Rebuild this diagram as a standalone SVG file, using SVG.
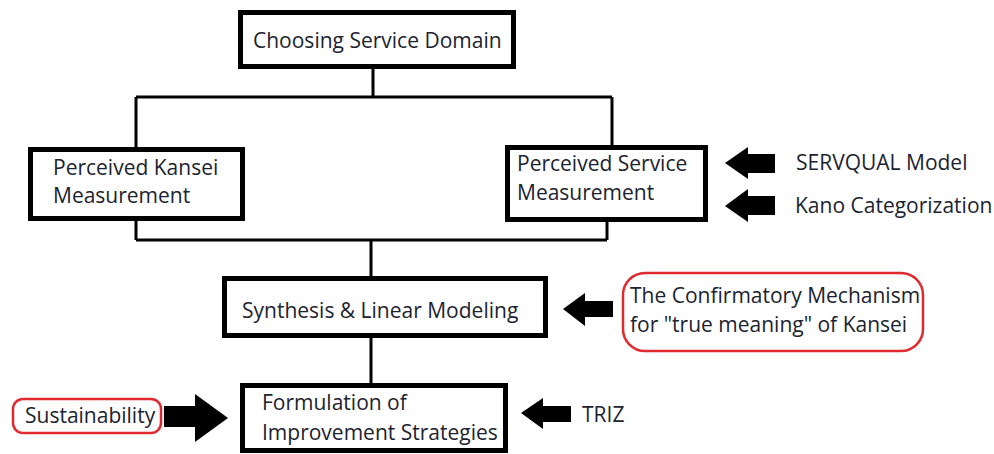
<svg xmlns="http://www.w3.org/2000/svg" width="994" height="454" viewBox="0 0 994 454">
<style>
  .box { fill: #ffffff; stroke: #000000; stroke-width: 5; }
  .red { fill: #ffffff; stroke: #e02a2f; stroke-width: 2.5; }
  .line { fill: none; stroke: #000000; stroke-width: 3; }
  .arrow { fill: #000000; }
  text { font-family: "Open Sans", "Liberation Sans", sans-serif; font-size: 21px; fill: #1c2330; }
</style>
<rect width="994" height="454" fill="#ffffff"/>
<g id="connectors">
  <path class="line" d="M373 69 V97 M136 97 H612 M136 97 V148 M612 97 V146"/>
  <path class="line" d="M136 220 V240 M607 221 V240 M136 240 H607 M371 240 V277"/>
  <path class="line" d="M371 337 V384"/>
  <polygon class="arrow" points="725,163 748,147 748,154 775,154 775,173 748,173 748,179"/>
  <polygon class="arrow" points="725,206 748,189 748,196 775,196 775,215 748,215 748,222"/>
  <polygon class="arrow" points="563,309 585,293 585,301 613,301 613,317 585,317 585,326"/>
  <polygon class="arrow" points="228,418 195,394 195,406 164,406 164,427 195,427 195,442"/>
  <polygon class="arrow" points="521,413 543,398 543,406 571,406 571,422 543,422 543,429"/>
</g>
<g id="choosing">
  <rect class="box" x="240.5" y="12.5" width="273" height="54"/>
  <text x="253" y="48">Choosing Service Domain</text>
</g>
<g id="kansei">
  <rect class="box" x="30.5" y="149.5" width="212" height="69"/>
  <text x="53" y="175">Perceived Kansei</text>
  <text x="53" y="203">Measurement</text>
</g>
<g id="service">
  <rect class="box" x="507.5" y="147.5" width="198" height="72"/>
  <text x="517" y="171">Perceived Service</text>
  <text x="517" y="200">Measurement</text>
</g>
<g id="servqual">
  <text x="796" y="170">SERVQUAL Model</text>
</g>
<g id="kano">
  <text x="795" y="213">Kano Categorization</text>
</g>
<g id="synthesis">
  <rect class="box" x="224.5" y="278.5" width="321" height="57"/>
  <text x="242" y="318">Synthesis &amp; Linear Modeling</text>
</g>
<g id="confirmatory">
  <rect class="red" x="623" y="273" width="300" height="78" rx="22" ry="22"/>
  <text x="630" y="303">The Confirmatory Mechanism</text>
  <text x="630" y="332">for "true meaning" of Kansei</text>
</g>
<g id="sustainability">
  <rect class="red" x="13" y="399" width="148" height="34" rx="10" ry="10"/>
  <text x="25" y="423">Sustainability</text>
</g>
<g id="formulation">
  <rect class="box" x="242.5" y="385.5" width="263" height="65"/>
  <text x="262" y="410">Formulation of</text>
  <text x="262" y="440">Improvement Strategies</text>
</g>
<g id="triz">
  <text x="582" y="422">TRIZ</text>
</g>
</svg>
